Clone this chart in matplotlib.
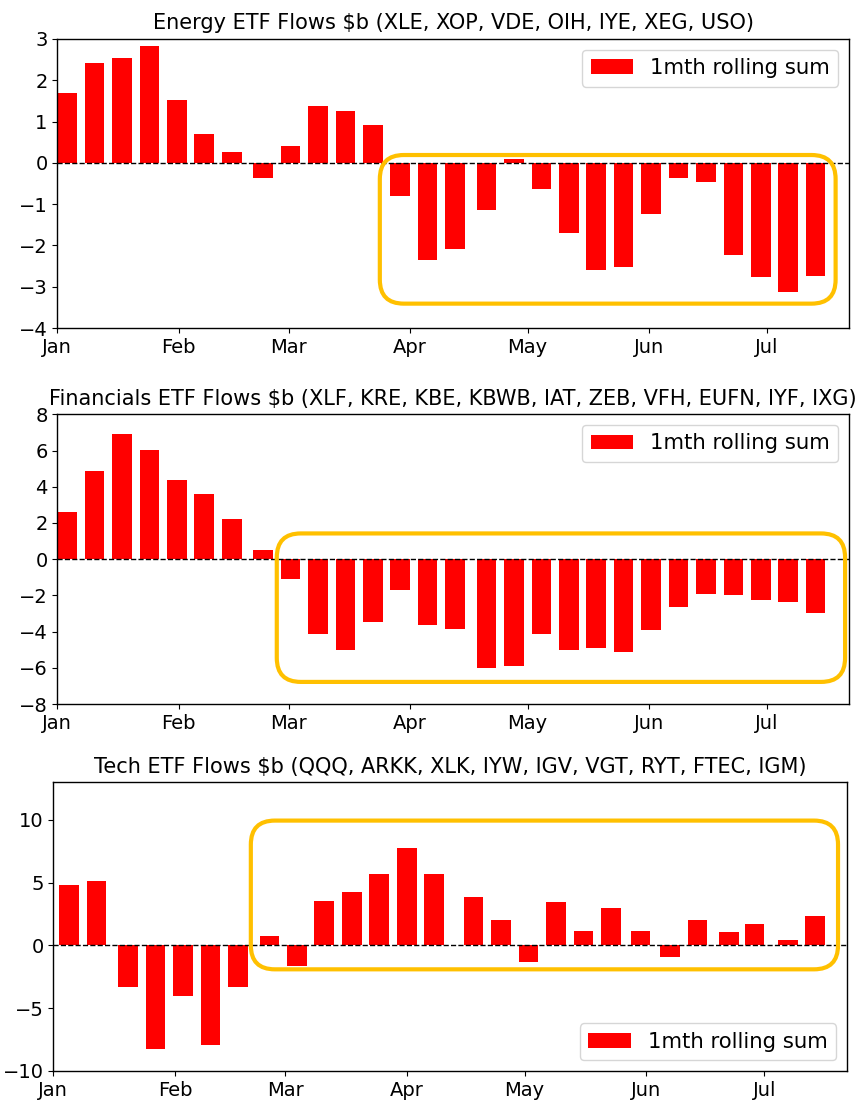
import pandas as pd
import matplotlib
matplotlib.use("Agg")
import matplotlib.pyplot as plt
import matplotlib.dates as mdates
from matplotlib.patches import FancyBboxPatch

#weekly dates (left edge of each bar) for energy and financials
dates_main = ["2023-01-01", "2023-01-08", "2023-01-15", "2023-01-22", "2023-01-29",
              "2023-02-05", "2023-02-12", "2023-02-20", "2023-02-27", "2023-03-06",
              "2023-03-13", "2023-03-20", "2023-03-27", "2023-04-03", "2023-04-10",
              "2023-04-18", "2023-04-25", "2023-05-02", "2023-05-09", "2023-05-16",
              "2023-05-23", "2023-05-30", "2023-06-06", "2023-06-13", "2023-06-20",
              "2023-06-27", "2023-07-04", "2023-07-11"]

#tech series sits on slightly different dates
dates_tech = ["2023-01-02 12:00", "2023-01-09 12:00", "2023-01-17 12:00", "2023-01-24 12:00",
              "2023-01-31 12:00", "2023-02-07 12:00", "2023-02-14 12:00", "2023-02-22 12:00",
              "2023-03-01 12:00", "2023-03-08 12:00", "2023-03-15 12:00", "2023-03-22 12:00",
              "2023-03-29 12:00", "2023-04-05 12:00", "2023-04-15 12:00", "2023-04-22 12:00",
              "2023-04-29 12:00", "2023-05-06 12:00", "2023-05-13 12:00", "2023-05-20 12:00",
              "2023-05-28 00:00", "2023-06-04 12:00", "2023-06-11 12:00", "2023-06-19 12:00",
              "2023-06-26 00:00", "2023-07-04 12:00", "2023-07-11 12:00"]

#1mth rolling sum of flows, $b
energy = [1.68, 2.41, 2.54, 2.84, 1.52, 0.69, 0.26, -0.37, 0.40, 1.38, 1.25, 0.91,
          -0.81, -2.35, -2.08, -1.15, 0.09, -0.63, -1.70, -2.60, -2.52, -1.23, -0.37,
          -0.46, -2.22, -2.77, -3.12, -2.73]
financials = [2.60, 4.86, 6.92, 6.04, 4.38, 3.59, 2.23, 0.53, -1.10, -4.14, -5.03, -3.46,
              -1.69, -3.65, -3.85, -5.99, -5.89, -4.14, -5.03, -4.92, -5.12, -3.92, -2.67,
              -1.90, -1.99, -2.28, -2.38, -2.96]
tech = [4.83, 5.13, -3.30, -8.23, -4.01, -7.93, -3.30, 0.75, -1.63, 3.56, 4.28, 5.68,
        7.80, 5.68, 3.88, 2.03, -1.31, 3.43, 1.18, 3.00, 1.18, -0.91, 2.03, 1.05, 1.74,
        0.46, 2.32]

titles = ["Energy ETF Flows $b (XLE, XOP, VDE, OIH, IYE, XEG, USO)",
          "Financials ETF Flows $b (XLF, KRE, KBE, KBWB, IAT, ZEB, VFH, EUFN, IYF, IXG)",
          "Tech ETF Flows $b (QQQ, ARKK, XLK, IYW, IGV, VGT, RYT, FTEC, IGM)"]

plt.rcParams['font.family'] = 'DejaVu Sans'
plt.rcParams['xtick.labelsize'] = 14.0
plt.rcParams['ytick.labelsize'] = 14.0
plt.rcParams['legend.fontsize'] = 15.3
plt.rcParams['axes.linewidth'] = 1.0

W, H = 867, 1110
fig = plt.figure(figsize=(W / 100, H / 100), dpi=100)

#axes rectangles in pixels: left, top, right, bottom
boxes_px = [(57.3, 39, 849, 328), (57.3, 414.3, 849, 704), (53.3, 782.3, 846.7, 1071)]

panels = [(dates_main, energy, (-4, 3), list(range(-4, 4)), "upper right"),
          (dates_main, financials, (-8, 8), list(range(-8, 9, 2)), "upper right"),
          (dates_tech, tech, (-10, 13), [-10, -5, 0, 5, 10], "lower right")]

#highlight boxes (start, end, low, high)
highlights = [("2023-03-24 07:00", "2023-07-18 14:00", -3.41, 0.19),
              ("2023-02-26", "2023-07-21", -6.78, 1.42),
              ("2023-02-20 07:00", "2023-07-19 19:00", -1.9, 9.95)]

x_start = pd.Timestamp("2023-01-01")
x_end = pd.Timestamp("2023-07-22")

for (l, t, r, b), (dates, vals, ylim, yticks, loc), title, hl in zip(boxes_px, panels, titles, highlights):
    ax = fig.add_axes([l / W, 1 - b / H, (r - l) / W, (b - t) / H])
    x = pd.to_datetime(dates)
    ax.bar(x, vals, width=5, align='edge', color='red', label='1mth rolling sum')
    ax.axhline(0, color='k', ls='--', lw=1)
    ax.set_xlim(x_start, x_end)
    ax.set_ylim(*ylim)
    ax.set_yticks(yticks)
    ax.xaxis.set_major_locator(mdates.MonthLocator())
    ax.xaxis.set_major_formatter(mdates.DateFormatter('%b'))
    ax.set_title(title, fontsize=15.0, pad=7)
    ax.legend(loc=loc)

    #rounded orange box, corners kept round in pixel space
    x0 = mdates.date2num(pd.Timestamp(hl[0]))
    x1 = mdates.date2num(pd.Timestamp(hl[1]))
    px_per_day = (r - l) / (mdates.date2num(x_end) - mdates.date2num(x_start))
    px_per_unit = (b - t) / (ylim[1] - ylim[0])
    rad = 24 / px_per_day
    patch = FancyBboxPatch((x0, hl[2]), x1 - x0, hl[3] - hl[2],
                           boxstyle="round,pad=0,rounding_size=%f" % rad,
                           mutation_aspect=px_per_day / px_per_unit,
                           fill=False, edgecolor='#FFC000', lw=3, zorder=5)
    ax.add_patch(patch)

plt.savefig('out.png', dpi=100)
